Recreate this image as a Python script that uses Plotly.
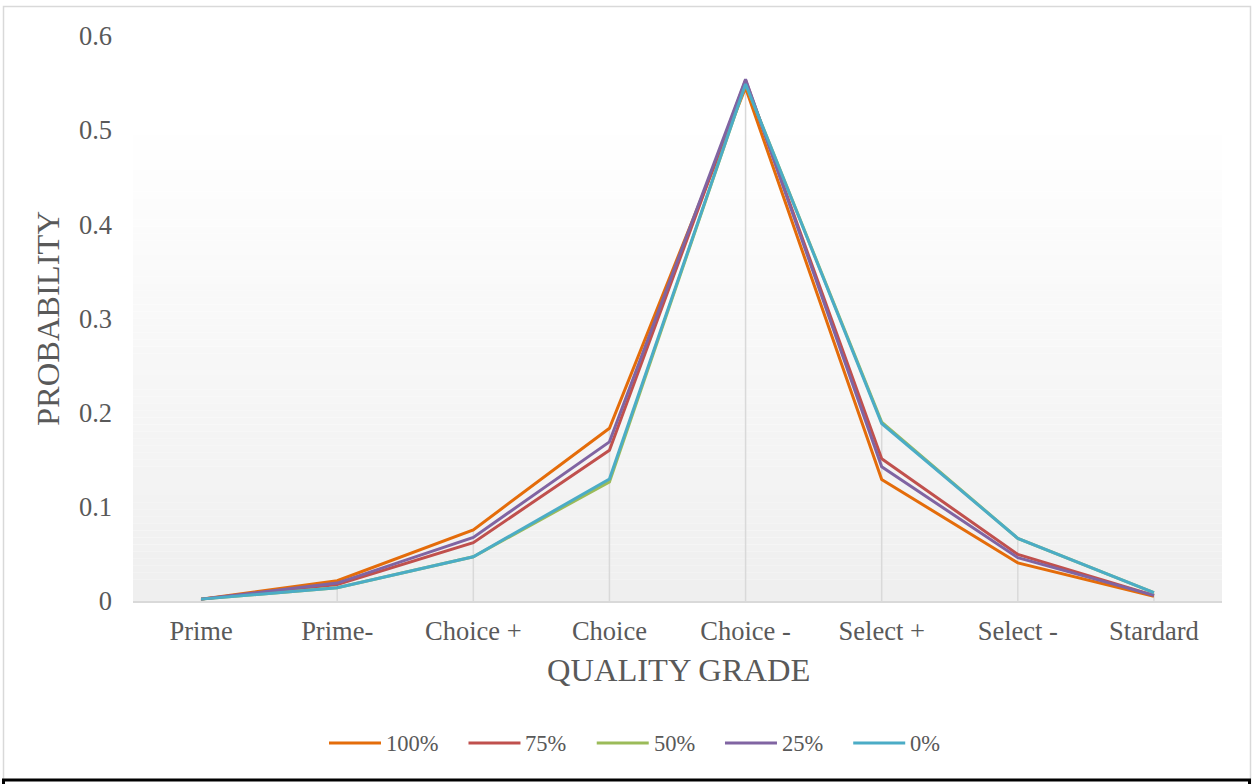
import plotly.graph_objects as go

# Quality grade categories and probability per scenario
grades = ["Prime", "Prime-", "Choice +", "Choice", "Choice -", "Select +", "Select -", "Stardard"]

p100 = [0.002, 0.0215, 0.0755, 0.1835, 0.545, 0.129, 0.0405, 0.005]
p75 = [0.002, 0.0175, 0.062, 0.160, 0.553, 0.151, 0.0495, 0.006]
p50 = [0.002, 0.014, 0.047, 0.1265, 0.549, 0.190, 0.0665, 0.0088]
p25 = [0.002, 0.019, 0.0675, 0.169, 0.554, 0.1425, 0.046, 0.006]
p0 = [0.002, 0.014, 0.047, 0.1295, 0.549, 0.1885, 0.0665, 0.0088]

series_names = ["100%", "75%", "50%", "25%", "0%"]
series_values = [p100, p75, p50, p25, p0]
series_colors = ["#E46C0A", "#C0504D", "#9BBB59", "#8064A2", "#4BACC6"]

FONT = "Liberation Serif"
TEXT_COLOR = "#595959"
TICK_SIZE = 26.5
TITLE_SIZE = 32.5
LEGEND_SIZE = 22.5
LINE_W = 3

W, H = 1253, 784
L, R, T, B = 133, 31, 36, 183
PW, PH = W - L - R, H - T - B


def px_x(px):
    return (px - L) / PW


def px_y(py):
    return (H - B - py) / PH


fig = go.Figure()

# drop lines from each category's highest value down to the axis
drop_x, drop_y = [], []
for i, g in enumerate(grades):
    top = max(vals[i] for vals in series_values)
    drop_x += [g, g, None]
    drop_y += [0, top, None]
fig.add_trace(go.Scatter(x=drop_x, y=drop_y, mode="lines",
                         line=dict(color="#d9d9d9", width=1.5),
                         showlegend=False, hoverinfo="skip"))

for name, vals, col in zip(series_names, series_values, series_colors):
    fig.add_trace(go.Scatter(x=grades, y=vals, mode="lines", name=name,
                             line=dict(color=col, width=LINE_W),
                             showlegend=False))

shapes = []
# vertical gradient for the plot area background
n_bands = 80
for k in range(n_bands):
    t = k / (n_bands - 1)
    v = round(239 + (255 - 239) * min(1.0, t / 0.85))
    shapes.append(dict(type="rect", xref="paper", yref="paper",
                       x0=0, x1=1, y0=k / n_bands, y1=(k + 1) / n_bands,
                       fillcolor=f"rgb({v},{v},{v})", line=dict(width=0),
                       layer="below"))

# chart outline
shapes.append(dict(type="rect", xref="paper", yref="paper",
                   x0=px_x(3.5), x1=px_x(1250.5), y0=px_y(790), y1=px_y(6.5),
                   line=dict(color="#d9d9d9", width=1.5), fillcolor="rgba(0,0,0,0)"))
# box below the chart
shapes.append(dict(type="rect", xref="paper", yref="paper",
                   x0=px_x(3.5), x1=px_x(1249.5), y0=px_y(800), y1=px_y(780),
                   line=dict(color="#000000", width=3), fillcolor="rgba(0,0,0,0)"))

annotations = [
    dict(text="PROBABILITY", xref="paper", yref="paper", x=px_x(48), y=px_y(318),
         showarrow=False, textangle=-90, xanchor="center", yanchor="middle",
         font=dict(family=FONT, size=TITLE_SIZE, color=TEXT_COLOR)),
    dict(text="QUALITY GRADE", xref="paper", yref="paper", x=px_x(678), y=px_y(670),
         showarrow=False, xanchor="center", yanchor="middle",
         font=dict(family=FONT, size=TITLE_SIZE, color=TEXT_COLOR)),
]

# legend row: a line sample followed by its label for each series
legend_y = 743
sample_len, text_gap, entry_gap = 52, 5, 30
x_cursor = 329
for name, col in zip(series_names, series_colors):
    shapes.append(dict(type="line", xref="paper", yref="paper",
                       x0=px_x(x_cursor), x1=px_x(x_cursor + sample_len),
                       y0=px_y(legend_y), y1=px_y(legend_y),
                       line=dict(color=col, width=LINE_W)))
    tx = x_cursor + sample_len + text_gap
    annotations.append(dict(text=name, xref="paper", yref="paper",
                            x=px_x(tx), y=px_y(legend_y), showarrow=False,
                            xanchor="left", yanchor="middle", xshift=-2,
                            font=dict(family=FONT, size=LEGEND_SIZE, color=TEXT_COLOR)))
    em = sum(0.833 if ch == "%" else 0.5 for ch in name)
    x_cursor = tx + em * LEGEND_SIZE + entry_gap

fig.update_layout(
    width=W, height=H,
    margin=dict(l=L, r=R, t=T, b=B),
    paper_bgcolor="white",
    plot_bgcolor="rgba(0,0,0,0)",
    font=dict(family=FONT, size=TICK_SIZE, color=TEXT_COLOR),
    shapes=shapes,
    annotations=annotations,
    showlegend=False,
)

fig.update_xaxes(type="category", categoryorder="array", categoryarray=grades,
                 range=[-0.5, len(grades) - 0.5],
                 showgrid=False, zeroline=False, showline=True,
                 linecolor="#d9d9d9", linewidth=1.5, ticks="",
                 ticklabelstandoff=5, tickfont=dict(size=TICK_SIZE, color=TEXT_COLOR))
fig.update_yaxes(range=[0, 0.6], tickvals=[0, 0.1, 0.2, 0.3, 0.4, 0.5, 0.6],
                 ticktext=["0", "0.1", "0.2", "0.3", "0.4", "0.5", "0.6"],
                 showgrid=False, zeroline=False, showline=False, ticks="",
                 ticklabelstandoff=20, tickfont=dict(size=TICK_SIZE, color=TEXT_COLOR))

fig.write_html("out.html")
